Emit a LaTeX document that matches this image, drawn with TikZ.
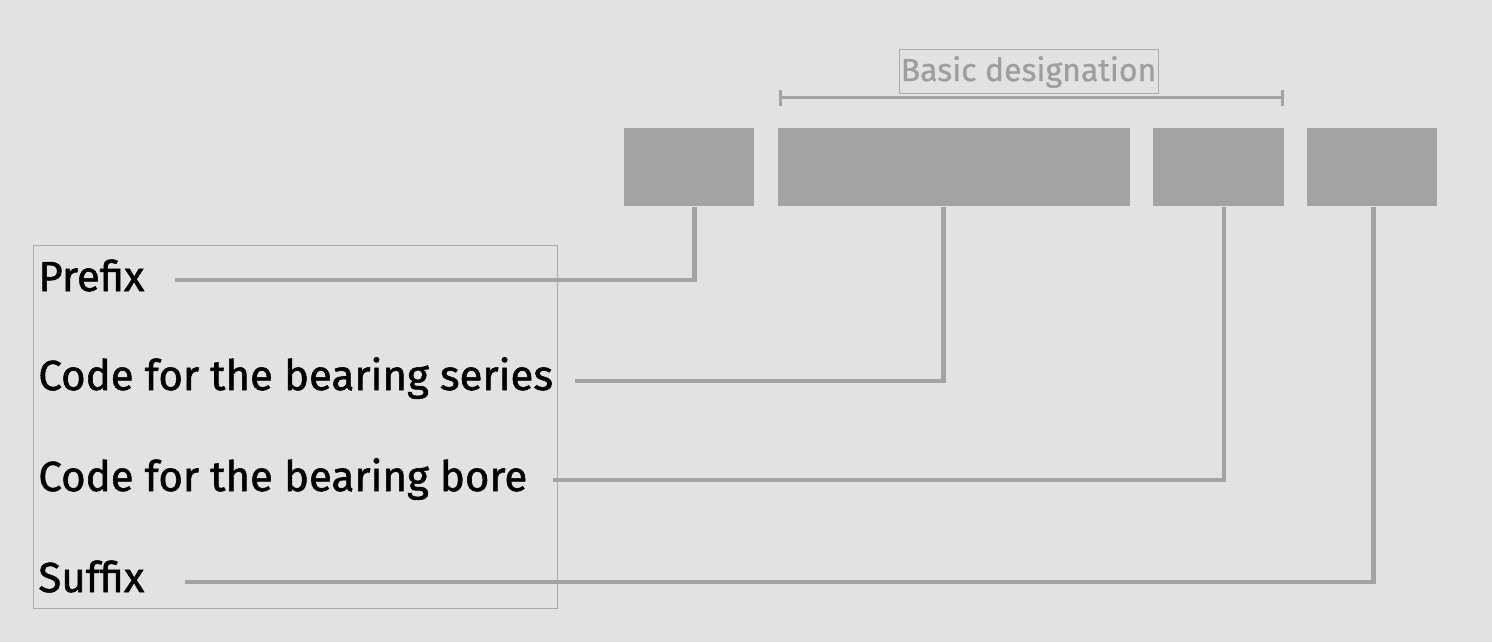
\documentclass[tikz,border=0pt]{standalone}
\usepackage{fontspec}
\setmainfont{Fira Sans}
\newfontfamily\labfont{Fira Sans}[FakeBold=1.3]
\newfontfamily\basicfont{Fira Sans}[FakeBold=0.8]
\definecolor{bg}{HTML}{E2E2E2}
\definecolor{blk}{HTML}{A3A3A3}
\definecolor{frame}{HTML}{ABABAB}
\definecolor{lbl}{HTML}{9E9E9E}
\begin{document}
\begin{tikzpicture}[x=0.5pt,y=-0.5pt,
  codebox/.style={fill=blk,draw=none,inner sep=0pt,anchor=north west},
  conn/.style={draw=blk,line width=2.2pt},
  lab/.style={anchor=base west,inner sep=0pt,font=\labfont\fontsize{21pt}{24pt}\selectfont},
]
\fill[bg] (0,0) rectangle (1492,642);
\useasboundingbox (0,0) rectangle (1492,642);
% boxes
\node[codebox,minimum width=65pt,minimum height=39pt] (b1) at (624,128) {};
\node[codebox,minimum width=176pt,minimum height=39pt] (b2) at (778,128) {};
\node[codebox,minimum width=65.5pt,minimum height=39pt] (b3) at (1153,128) {};
\node[codebox,minimum width=65pt,minimum height=39pt] (b4) at (1307,128) {};
% bracket
\coordinate (bl) at (780,98);
\coordinate (br) at (1282,98);
\draw[draw=blk,line width=1.5pt] (bl) -- (br);
\draw[draw=blk,line width=1.5pt] ([yshift=4pt]bl) -- ([yshift=-4pt]bl);
\draw[draw=blk,line width=1.5pt] ([yshift=4pt]br) -- ([yshift=-4pt]br);
\node[draw=frame,line width=0.5pt,minimum width=129.5pt,minimum height=22pt,inner sep=0pt,
  text=lbl,font=\basicfont\fontsize{16pt}{19pt}\selectfont] (basic) at (1028.5,72) {Basic designation};
% left frame
\node[draw=frame,line width=0.5pt,minimum width=262pt,minimum height=181.5pt,inner sep=0pt,anchor=north west] (frame) at (33,245) {};
% labels
\node[lab] (prefix) at (38,291) {Prefix};
\node[lab] (series) at (38,390) {Code for the bearing series};
\node[lab] (bore) at (38,491) {Code for the bearing bore};
\node[lab] (suffix) at (38,592) {Suffix};
% connector starts
\coordinate (s1) at (175,280);
\coordinate (s2) at (575,381);
\coordinate (s3) at (553,480);
\coordinate (s4) at (185,582);
\draw[conn] (s1) -| ([xshift=2.5pt]b1.south);
\draw[conn] (s2) -| ([xshift=-5.5pt]b2.south);
\draw[conn] (s3) -| ([xshift=2.5pt]b3.south);
\draw[conn] (s4) -| ([xshift=0.5pt]b4.south);
\end{tikzpicture}
\end{document}
